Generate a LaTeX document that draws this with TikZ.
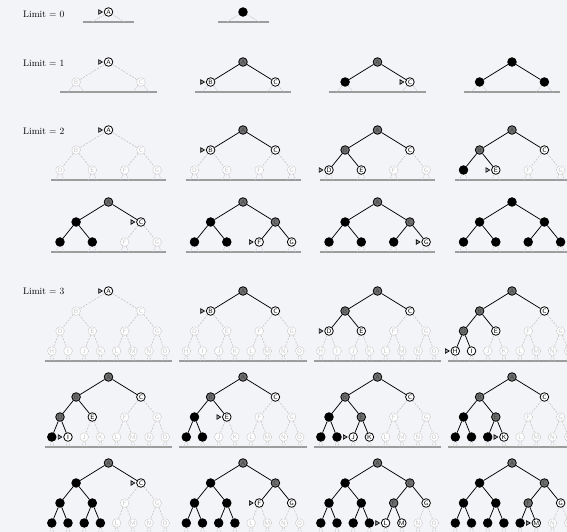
\documentclass[tikz,border=0pt]{standalone}
\usepackage{tikz}
\definecolor{bgc}{HTML}{F3F4F8}
\definecolor{nodegray}{HTML}{707070}
\definecolor{faint}{HTML}{C4C4C4}
\definecolor{basegray}{HTML}{9C9C9C}
\newcommand\TRx[1]{\ifcase#1\or108.5\or76.1\or140.9\or60.0\or92.3\or124.7\or157.1\or51.8\or68.0\or84.2\or100.4\or116.6\or132.8\or149.0\or165.2\fi}
\newcommand\TRlev[1]{\ifcase#1\or0\or1\or1\or2\or2\or2\or2\or3\or3\or3\or3\or3\or3\or3\or3\fi}
\newcommand\TRname[1]{\ifcase#1\or A\or B\or C\or D\or E\or F\or G\or H\or I\or J\or K\or L\or M\or N\or O\fi}
\newcommand\TRleft[1]{\ifcase#1 83.0\or60.1\or51.0\or44.8\fi}
\newcommand\TRright[1]{\ifcase#1 134.0\or156.9\or166.1\or172.2\fi}
\tikzset{
  treenode/.style={circle, inner sep=0pt, minimum size=8.6pt, line width=0.8pt,
    font=\sffamily\fontsize{6.3}{6.3}\selectfont},
  nodew/.style={treenode, draw=black, fill=white, text=black},
  nodeg/.style={treenode, draw=black, fill=nodegray, text=black!75},
  nodek/.style={treenode, draw=black, fill=black},
  nodef/.style={treenode, draw=faint, dash pattern=on 1pt off 0.7pt, line width=0.6pt, fill=white, text=faint},
  edgew/.style={draw=black, line width=0.75pt},
  edgeg/.style={edgew},
  edgek/.style={edgew},
  edgef/.style={draw=faint, dash pattern=on 2pt off 1.3pt, line width=0.6pt},
  stubline/.style={draw=faint, dash pattern=on 1.5pt off 1pt, line width=0.55pt},
  baseln/.style={draw=basegray, line width=1.6pt},
  ptr/.style={draw=black, fill=black!40, line width=0.6pt, line join=miter},
  limlabel/.style={anchor=west, inner sep=0pt, font=\fontsize{9.5}{11}\selectfont}
}
% #1 prefix, #2 x offset, #3 y of root, #4 limit, #5 states, #6 marker index (0 = none)
\newcommand\drawtree[6]{%
  \begin{scope}[shift={(#2,#3)}]
    \coordinate (#1-bl) at ({\TRleft{#4}},{20*#4+10});
    \coordinate (#1-br) at ({\TRright{#4}},{20*#4+10});
    \draw[baseln] (#1-bl) -- (#1-br);
    \pgfmathsetmacro\stubo{16.2/(2^#4)}
    \foreach \s [count=\i] in {#5} {
      \edef\curx{\TRx{\i}}
      \edef\curl{\TRlev{\i}}
      \node[node\s] (#1-\i) at (\curx,{20*\curl}) {\if\s k\else\TRname{\i}\fi};
      \ifnum\i>1
        \pgfmathtruncatemacro\pidx{\i/2}
        \draw[edge\s] (#1-\pidx) -- (#1-\i);
      \fi
      \ifnum\curl=#4
        \coordinate (#1-\i-a) at ({\curx-\stubo},{20*#4+10});
        \coordinate (#1-\i-b) at ({\curx+\stubo},{20*#4+10});
        \draw[stubline] (#1-\i) -- (#1-\i-a);
        \draw[stubline] (#1-\i) -- (#1-\i-b);
      \fi
    }
    \ifnum#6>0
      \draw[ptr] ([xshift=-1.4pt]#1-#6.west) -- ++(-3.8,-2.3) -- ++(0,4.6) -- cycle;
    \fi
  \end{scope}
}
\begin{document}
\begin{tikzpicture}[x=1pt,y=-1pt]
\useasboundingbox (0,0) rectangle (567,532);
\fill[bgc] (0,0) rectangle (567,532);
\clip (0,0) rectangle (567,532);

\node[limlabel] (lab0) at (23,14) {Limit = 0};
\node[limlabel] (lab1) at (23,63) {Limit = 1};
\node[limlabel] (lab2) at (23,131) {Limit = 2};
\node[limlabel] (lab3) at (23,291) {Limit = 3};

% Limit 0
\drawtree{za}{0}{12}{0}{w}{1}
\drawtree{zb}{134.5}{12}{0}{k}{0}

% Limit 1
\drawtree{oa}{0}{62}{1}{w,f,f}{1}
\drawtree{ob}{134.5}{62}{1}{g,w,w}{2}
\drawtree{oc}{269}{62}{1}{g,k,w}{3}
\drawtree{od}{403.5}{62}{1}{k,k,k}{0}

% Limit 2
\drawtree{ta}{0}{130}{2}{w,f,f,f,f,f,f}{1}
\drawtree{tb}{134.5}{130}{2}{g,w,w,f,f,f,f}{2}
\drawtree{tc}{269}{130}{2}{g,g,w,w,w,f,f}{4}
\drawtree{td}{403.5}{130}{2}{g,g,w,k,w,f,f}{5}
\drawtree{te}{0}{202}{2}{g,k,w,k,k,f,f}{3}
\drawtree{tf}{134.5}{202}{2}{g,k,g,k,k,w,w}{6}
\drawtree{tg}{269}{202}{2}{g,k,g,k,k,k,w}{7}
\drawtree{th}{403.5}{202}{2}{k,k,k,k,k,k,k}{0}

% Limit 3
\drawtree{ra}{0}{291}{3}{w,f,f,f,f,f,f,f,f,f,f,f,f,f,f}{1}
\drawtree{rb}{134.5}{291}{3}{g,w,w,f,f,f,f,f,f,f,f,f,f,f,f}{2}
\drawtree{rc}{269}{291}{3}{g,g,w,w,w,f,f,f,f,f,f,f,f,f,f}{4}
\drawtree{rd}{403.5}{291}{3}{g,g,w,g,w,f,f,w,w,f,f,f,f,f,f}{8}
\drawtree{re}{0}{377}{3}{g,g,w,g,w,f,f,k,w,f,f,f,f,f,f}{9}
\drawtree{rf}{134.5}{377}{3}{g,g,w,k,w,f,f,k,k,f,f,f,f,f,f}{5}
\drawtree{rg}{269}{377}{3}{g,g,w,k,g,f,f,k,k,w,w,f,f,f,f}{10}
\drawtree{rh}{403.5}{377}{3}{g,g,w,k,g,f,f,k,k,k,w,f,f,f,f}{11}
\drawtree{ri}{0}{463}{3}{g,k,w,k,k,f,f,k,k,k,k,f,f,f,f}{3}
\drawtree{rj}{134.5}{463}{3}{g,k,g,k,k,w,w,k,k,k,k,f,f,f,f}{6}
\drawtree{rk}{269}{463}{3}{g,k,g,k,k,g,w,k,k,k,k,w,w,f,f}{12}
\drawtree{rl}{403.5}{463}{3}{g,k,g,k,k,g,w,k,k,k,k,k,w,f,f}{13}
\end{tikzpicture}
\end{document}
